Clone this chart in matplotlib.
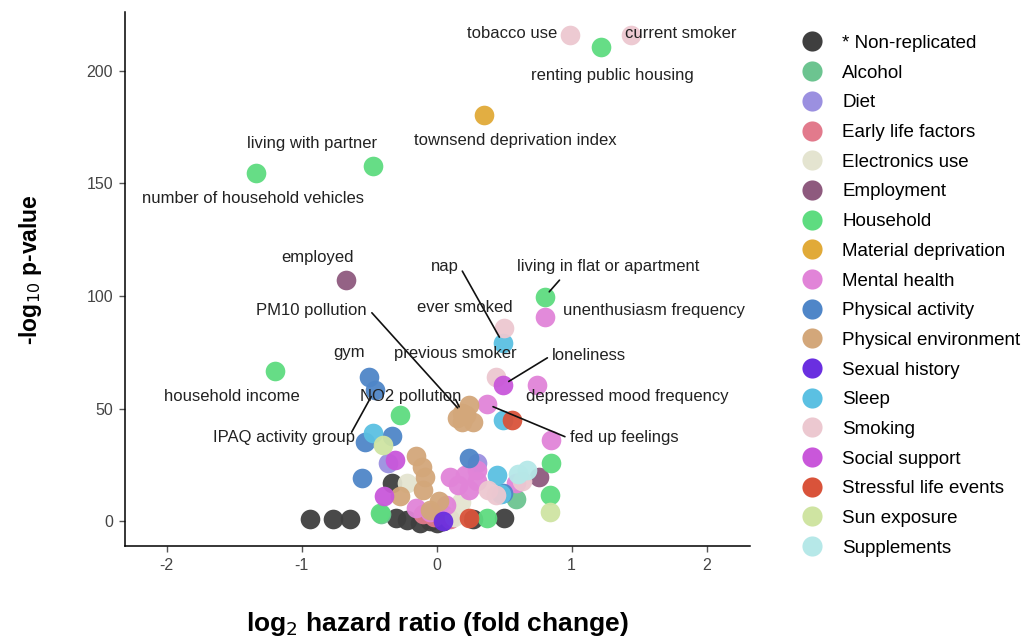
import matplotlib
matplotlib.use("Agg")
import matplotlib.pyplot as plt
from matplotlib.lines import Line2D

plt.rcParams['font.family'] = ['Liberation Sans', 'DejaVu Sans']

categories = ["* Non-replicated", "Alcohol", "Diet", "Early life factors", "Electronics use",
              "Employment", "Household", "Material deprivation", "Mental health",
              "Physical activity", "Physical environment", "Sexual history", "Sleep",
              "Smoking", "Social support", "Stressful life events", "Sun exposure", "Supplements"]

colors = ["#3f3f3f", "#6cc490", "#9b90e0", "#e27a8c", "#e4e4d0", "#8e5a7e", "#5edc80",
          "#e1aa38", "#e184d8", "#4f86c8", "#d3a77a", "#6a2fe0", "#5bc0e2", "#ecc8d0",
          "#c957da", "#d9533a", "#cfe4a2", "#b6e8e8"]

# log2 hazard ratio (x) and -log10 p-value (y) per category
x_nonrep = [-0.94, -0.77, -0.64, -0.33, -0.30, -0.22, -0.12, -0.05, 0.00, 0.05, 0.27, 0.50]
y_nonrep = [1, 1, 1, 17, 1.5, 0.5, -1, 0, -1, 0, 1, 1.5]
x_alcohol = [-0.41, 0.59]
y_alcohol = [3, 10]
x_diet = [-0.36, 0.30, 0.05]
y_diet = [26, 25.7, 3]
x_early = [-0.10, 0.10, -0.02]
y_early = [3, 1, 2]
x_electronics = [-0.22, 0.18, 0.13]
y_electronics = [17, 8.5, 2]
x_employment = [-0.67, 0.76]
y_employment = [107, 19.5]
x_household = [1.22, -0.47, -1.34, 0.80, -1.20, -0.27, -0.42, 0.37, 0.85, 0.84]
y_household = [210.4, 157.6, 154.5, 99.5, 66.6, 47, 3.5, 1.3, 25.7, 11.5]
x_material = [0.35]
y_material = [180.2]
x_mental = [0.80, 0.74, 0.37, 0.85, 0.10, 0.21, 0.30, 0.30, -0.15, 0.07, 0.59, -0.05, 0.16, 0.24]
y_mental = [90.5, 60.4, 52, 36, 19.5, 20.4, 22.6, 18, 6, 7, 17, 4, 16, 14]
x_physact = [-0.50, -0.46, -0.53, -0.33, -0.55, 0.24, 0.49]
y_physact = [64, 58, 35, 38, 19, 28, 12.4]
x_physenv = [0.19, 0.27, 0.15, 0.24, 0.19, 0.22, -0.15, -0.11, -0.09, -0.10, -0.27, 0.02, -0.05]
y_physenv = [48, 44, 46, 51.5, 44, 47, 29, 24, 19.5, 13.7, 11, 9, 5]
x_sexual = [0.05]
y_sexual = [0]
x_sleep = [0.49, 0.49, -0.47, 0.45, 0.48]
y_sleep = [79, 45, 39, 20.4, 12]
x_smoking = [0.99, 1.44, 0.50, 0.44, 0.38, 0.44, 0.63]
y_smoking = [215.7, 215.7, 85.6, 64, 14, 11.5, 18]
x_social = [0.49, -0.31, -0.39]
y_social = [60.4, 27, 11]
x_stress = [0.56, 0.24]
y_stress = [45, 1.3]
x_sun = [-0.40, 0.84]
y_sun = [34, 4]
x_supp = [0.67, 0.60]
y_supp = [22.6, 21]

series_x = [x_nonrep, x_alcohol, x_diet, x_early, x_electronics, x_employment, x_household,
            x_material, x_mental, x_physact, x_physenv, x_sexual, x_sleep, x_smoking,
            x_social, x_stress, x_sun, x_supp]
series_y = [y_nonrep, y_alcohol, y_diet, y_early, y_electronics, y_employment, y_household,
            y_material, y_mental, y_physact, y_physenv, y_sexual, y_sleep, y_smoking,
            y_social, y_stress, y_sun, y_supp]

# labels: text, point (x, y)
label_texts = ["tobacco use", "current smoker", "renting public housing", "townsend deprivation index",
               "living with partner", "number of household vehicles", "employed", "nap",
               "living in flat or apartment", "PM10 pollution", "ever smoked", "unenthusiasm frequency",
               "gym", "previous smoker", "loneliness", "household income", "NO2 pollution",
               "depressed mood frequency", "IPAQ activity group", "fed up feelings"]
label_px = [0.99, 1.44, 1.22, 0.35, -0.47, -1.34, -0.67, 0.49, 0.80, 0.19, 0.50, 0.80,
            -0.50, 0.44, 0.49, -1.20, 0.19, 0.74, -0.46, 0.37]
label_py = [215.7, 215.7, 210.4, 180.2, 157.6, 154.5, 107, 79, 99.5, 48, 85.6, 90.5,
            64, 64, 60.4, 66.6, 48, 60.4, 58, 52]

# text placement (layout)
label_tx = [0.56, 1.81, 1.30, 0.58, -0.92, -1.36, -0.88, 0.06, 1.27, -0.93, 0.21, 1.61,
            -0.65, 0.14, 1.13, -1.52, -0.19, 1.41, -1.13, 1.39]
label_ty = [216.6, 216.6, 198, 169, 167.8, 143.4, 117, 113, 113, 93.7, 95, 93.7,
            75, 74.6, 73.7, 55.5, 55.5, 55.5, 37.3, 37.3]
with_segment = [False, False, False, False, False, False, False, True, True, True, False, False,
                False, False, True, False, True, False, True, True]
seg_start = {7: (0.19, 111), 8: (0.91, 107), 9: (-0.48, 92.5), 14: (0.82, 72.5),
             16: (0.14, 54), 18: (-0.63, 39.5), 19: (0.95, 37.5)}

fig = plt.figure(figsize=(10.23, 6.37), dpi=100)
ax = fig.add_axes([0.122, 0.143, 0.611, 0.838])

for xs, ys, c in zip(series_x, series_y, colors):
    ax.scatter(xs, ys, s=200, color=c, alpha=0.95, linewidths=0, zorder=2)

for i, t in enumerate(label_texts):
    ax.text(label_tx[i], label_ty[i], t, ha='center', va='center', fontsize=12, color='#222222', zorder=4)
    if with_segment[i]:
        sx, sy = seg_start[i]
        ax.annotate("", xy=(label_px[i], label_py[i]), xytext=(sx, sy),
                    arrowprops=dict(arrowstyle='-', color='#111111', lw=1.2, shrinkA=0, shrinkB=5),
                    zorder=3)

ax.set_xlim(-2.31, 2.32)
ax.set_ylim(-11, 226)
ax.set_xticks([-2, -1, 0, 1, 2])
ax.set_xticklabels(["-2", "-1", "0", "1", "2"])
ax.set_yticks([0, 50, 100, 150, 200])
for s in ['top', 'right']:
    ax.spines[s].set_visible(False)
for s in ['left', 'bottom']:
    ax.spines[s].set_linewidth(1.1)
ax.tick_params(colors='#555555', labelsize=11.5, length=4, width=1, pad=4.5)
ax.tick_params(labelcolor='#444444')
ax.set_xlabel("log$_2$ hazard ratio (fold change)", fontsize=19, fontweight='bold', va='top')
ax.xaxis.set_label_coords(0.5, -0.121)
ax.set_ylabel("-log$_{10}$ p-value", fontsize=16.5, fontweight='bold')
ax.yaxis.set_label_coords(-0.129, 0.517)

handles = [Line2D([], [], marker='o', linestyle='none', markersize=14.5, markerfacecolor=c,
                  markeredgewidth=0) for c in colors]
fig.legend(handles, categories, loc='upper left', bbox_to_anchor=(0.7755, 0.957), frameon=False,
           fontsize=13.5, labelspacing=0.67, handletextpad=1.0, borderaxespad=0, handlelength=1.2)

fig.savefig("out.png", dpi=100)
